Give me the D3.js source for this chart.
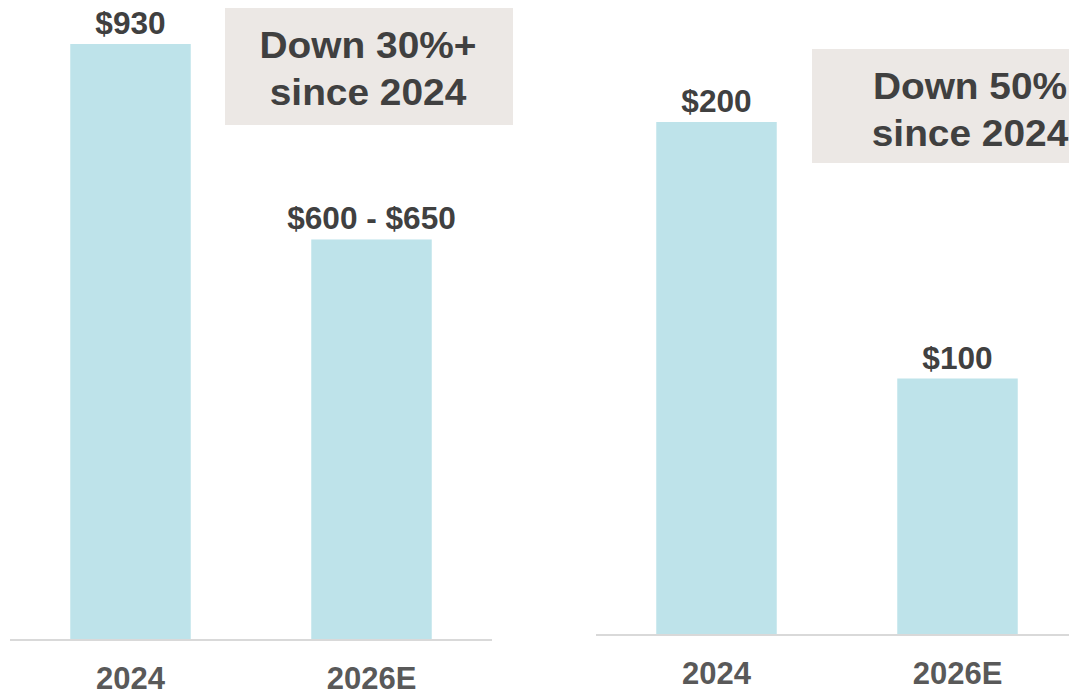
<!DOCTYPE html>
<html>
<head>
<meta charset="utf-8">
<script src="https://cdn.jsdelivr.net/npm/d3@7"></script>
<style>
  body { margin: 0; background: #fff; }
  text { font-family: "Liberation Sans", Arial, sans-serif; font-weight: bold; }
</style>
</head>
<body>
<script>
// data
var categories = ["2024", "2026E"];
var leftValues = [930, 625];            // 2026E is a $600 - $650 range, drawn at midpoint
var leftLabels = ["$930", "$600 - $650"];
var rightValues = [200, 100];
var rightLabels = ["$200", "$100"];
var leftNote = ["Down 30%+", "since 2024"];
var rightNote = ["Down 50%", "since 2024"];

var W = 1069, H = 695;
var svg = d3.select("body").append("svg")
  .attr("width", W)
  .attr("height", H);

function panel(opt) {
  var x = d3.scaleBand()
    .domain(categories)
    .range(opt.xRange)
    .paddingInner(0.5)
    .paddingOuter(0.25);
  var y = d3.scaleLinear()
    .domain([0, opt.max])
    .range([opt.base, opt.top]);

  var g = svg.append("g");

  // note box
  g.append("rect")
    .attr("x", opt.box[0]).attr("y", opt.box[1])
    .attr("width", opt.box[2]).attr("height", opt.box[3])
    .attr("fill", "#ECE8E5");
  opt.note.forEach(function(t, i) {
    g.append("text")
      .attr("transform", "translate(" + opt.noteX + "," + (opt.box[1] + 50 + i * 47) + ") scale(1.05,1)")
      .attr("text-anchor", "middle")
      .attr("font-size", 37)
      .attr("fill", "#404040")
      .text(t);
  });

  g.selectAll("rect.bar")
    .data(opt.values)
    .enter()
    .append("rect")
    .attr("class", "bar")
    .attr("x", function(d, i) { return x(categories[i]); })
    .attr("y", function(d) { return y(d); })
    .attr("width", x.bandwidth())
    .attr("height", function(d) { return y(0) - y(d); })
    .attr("fill", "#BEE3EA");

  g.selectAll("text.val")
    .data(opt.values)
    .enter()
    .append("text")
    .attr("class", "val")
    .attr("transform", function(d, i) {
      return "translate(" + (x(categories[i]) + x.bandwidth() / 2) + "," + (y(d) - 10) + ") scale(1.02,1)";
    })
    .attr("text-anchor", "middle")
    .attr("font-size", 31)
    .attr("fill", "#404040")
    .text(function(d, i) { return opt.labels[i]; });

  // baseline
  g.append("line")
    .attr("x1", opt.xRange[0]).attr("x2", opt.xRange[1])
    .attr("y1", y(0)).attr("y2", y(0))
    .attr("stroke", "#D9D9D9")
    .attr("stroke-width", 2);

  g.selectAll("text.cat")
    .data(categories)
    .enter()
    .append("text")
    .attr("class", "cat")
    .attr("transform", function(d) {
      return "translate(" + (x(d) + x.bandwidth() / 2) + "," + (y(0) + 49) + ")";
    })
    .attr("text-anchor", "middle")
    .attr("font-size", 31)
    .attr("fill", "#595959")
    .text(function(d) { return d; });
}

panel({
  xRange: [10, 492], base: 640, top: 44, max: 930,
  values: leftValues, labels: leftLabels, note: leftNote,
  box: [225, 8, 288, 117], noteX: 368
});

panel({
  xRange: [596, 1078], base: 635, top: 122, max: 200,
  values: rightValues, labels: rightLabels, note: rightNote,
  box: [812, 49, 300, 114], noteX: 970
});
</script>
</body>
</html>
